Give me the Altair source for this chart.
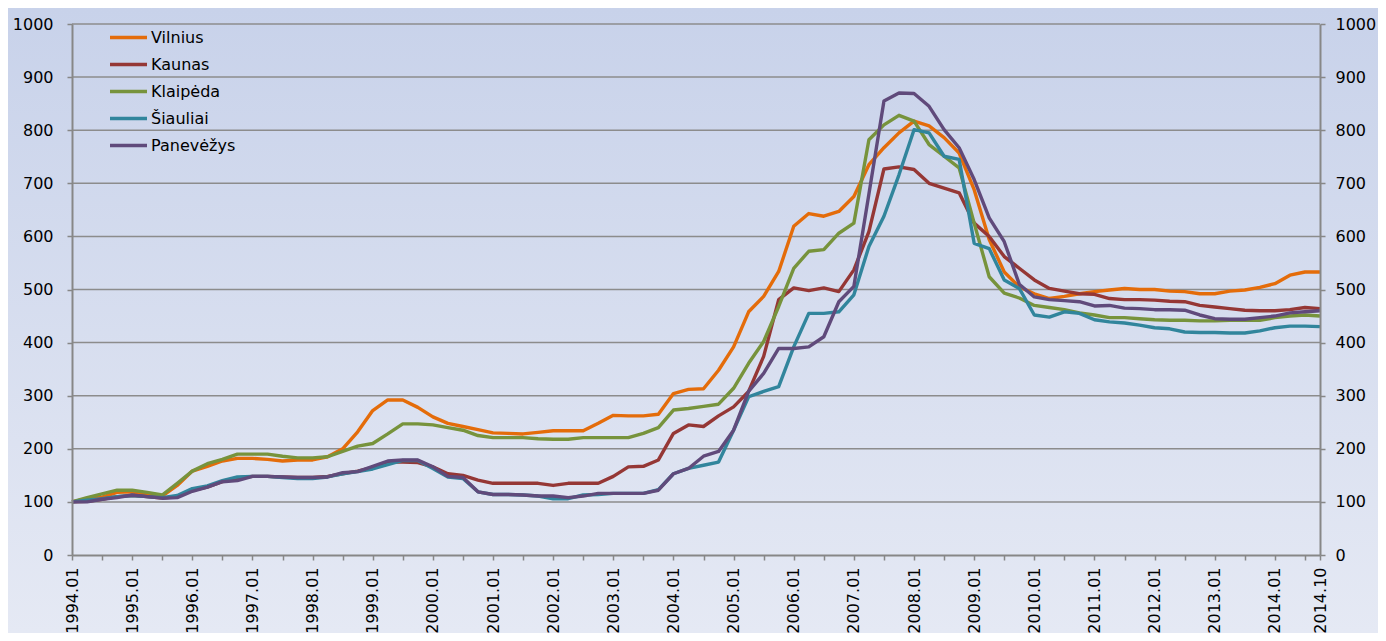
import altair as alt
import pandas as pd

# month index (0 = 1994.01) sampled quarterly, last point = 2014.10
months = list(range(0, 247, 3)) + [249]

vilnius = [100, 106, 109, 118, 119, 113, 111, 131, 158, 167, 177, 182, 182, 180, 177, 179, 179, 185, 200, 232,
           272, 292, 292, 278, 260, 248, 242, 236, 230, 229, 228, 231, 234, 234, 234, 248, 263, 262, 262, 265,
           304, 312, 313, 348, 392, 458, 487, 534, 619, 643, 638, 647, 675, 735, 767, 795, 817, 808, 786, 757,
           688, 594, 533, 505, 492, 483, 487, 492, 496, 499, 502, 500, 500, 497, 496, 492, 492, 497, 499, 504,
           511, 527, 533, 533]
kaunas = [100, 101, 105, 110, 112, 110, 107, 110, 122, 128, 138, 145, 148, 148, 147, 146, 146, 148, 153, 158,
          165, 175, 175, 174, 166, 153, 150, 141, 135, 135, 135, 135, 131, 135, 135, 135, 148, 166, 167, 179,
          229, 245, 242, 262, 279, 308, 374, 481, 503, 498, 503, 496, 537, 609, 727, 731, 726, 700, 691, 682,
          625, 600, 562, 540, 518, 502, 497, 492, 491, 483, 481, 481, 480, 478, 477, 470, 467, 464, 461, 460,
          460, 462, 466, 464]
klaipeda = [100, 108, 115, 122, 122, 118, 113, 135, 158, 172, 180, 190, 190, 190, 186, 183, 183, 185, 195, 205,
            210, 228, 247, 247, 245, 240, 235, 225, 221, 221, 221, 219, 218, 218, 221, 221, 221, 221, 229, 240,
            273, 276, 280, 284, 314, 361, 402, 468, 540, 572, 575, 606, 625, 782, 810, 828, 817, 773, 751, 729,
            625, 524, 493, 484, 470, 466, 462, 456, 452, 447, 447, 445, 443, 442, 442, 441, 441, 442, 442, 442,
            447, 450, 452, 450]
siauliai = [100, 103, 106, 110, 112, 110, 108, 112, 125, 130, 140, 147, 148, 148, 146, 144, 144, 147, 153, 157,
            162, 170, 178, 178, 163, 147, 144, 119, 114, 114, 113, 111, 106, 106, 113, 114, 116, 116, 116, 123,
            153, 163, 169, 175, 235, 298, 308, 317, 392, 455, 455, 458, 490, 581, 638, 716, 801, 795, 751, 745,
            587, 577, 518, 502, 452, 448, 458, 455, 443, 439, 437, 433, 428, 426, 420, 419, 419, 418, 418, 422,
            428, 431, 431, 430]
panevezys = [100, 100, 105, 108, 113, 110, 107, 108, 120, 128, 138, 140, 148, 148, 147, 146, 146, 147, 155, 157,
             167, 177, 179, 179, 166, 148, 146, 119, 114, 114, 113, 111, 111, 108, 111, 116, 116, 116, 116, 122,
             153, 163, 186, 195, 235, 308, 342, 389, 389, 392, 411, 477, 506, 680, 855, 870, 869, 845, 801, 767,
             707, 635, 590, 510, 486, 481, 479, 477, 469, 470, 465, 464, 462, 462, 461, 452, 445, 444, 444, 447,
             450, 456, 458, 460]

cities = ["Vilnius", "Kaunas", "Klaipėda", "Šiauliai", "Panevėžys"]
colors = ["#E46C0A", "#953735", "#77933C", "#31859C", "#604A7B"]
series = [vilnius, kaunas, klaipeda, siauliai, panevezys]

tick_months = list(range(0, 247, 6)) + [249]
y_ticks = list(range(0, 1001, 100))

rows = []
for ci, (name, vals) in enumerate(zip(cities, series)):
    for m, v in zip(months, vals):
        rows.append({"m": m, "value": v, "city": name, "ord": ci})
df = pd.DataFrame(rows)

W, H = 1248, 531
PL, PT, PR, PB = 64, 16, 58, 78
FONT = "DejaVu Sans"

xscale = alt.Scale(domain=[0, 249], nice=False, zero=False)
yscale = alt.Scale(domain=[0, 1000], nice=False)

bg = alt.Chart(pd.DataFrame({"a": [0]})).mark_rect(
    color=alt.Gradient(
        gradient="linear",
        stops=[alt.GradientStop(color="#C8D2EA", offset=0),
               alt.GradientStop(color="#E5E9F4", offset=1)],
        x1=0, x2=0, y1=0, y2=1,
    )
).encode(
    x=alt.value(-PL), x2=alt.value(W + PR), y=alt.value(-PT), y2=alt.value(H + PB)
)

grid = alt.Chart(pd.DataFrame({"g": y_ticks[1:]})).mark_rule(
    color="#8C8C8C", strokeWidth=1.5
).encode(y=alt.Y("g:Q", scale=yscale, axis=None))

label_expr = ("datum.value == 249 ? '2014.10' : (datum.value % 12 == 0 ? "
              "(1994 + datum.value / 12) + '.01' : '')")

lines = alt.Chart(df).mark_line(strokeWidth=3.4, strokeJoin="round").encode(
    x=alt.X("m:Q", scale=xscale,
            axis=alt.Axis(values=tick_months, labelExpr=label_expr, title=None, grid=False,
                          labelAngle=-90, labelFont=FONT, labelFontSize=16, labelColor="#000000",
                          domainColor="#878787", domainWidth=2, tickColor="#878787", tickWidth=1.5,
                          tickSize=5, labelPadding=7, zindex=1, labelOverlap=False, labelFlush=False)),
    y=alt.Y("value:Q", scale=yscale,
            axis=alt.Axis(values=y_ticks, format="d", title=None, grid=False, orient="left",
                          labelFont=FONT, labelFontSize=16, labelColor="#000000",
                          domainColor="#878787", domainWidth=2, tickColor="#878787", tickWidth=1.5,
                          tickSize=5, labelPadding=14, zindex=1)),
    color=alt.Color("city:N", scale=alt.Scale(domain=cities, range=colors), sort=cities,
                    legend=alt.Legend(title=None, orient="none", legendX=36, legendY=0,
                                      symbolType="stroke", symbolSize=1369, symbolStrokeWidth=3.5,
                                      labelFont=FONT, labelFontSize=16, labelColor="#000000",
                                      labelOffset=2, rowPadding=0, padding=0, clipHeight=27)),
    order=alt.Order("ord:Q"),
    detail="city:N",
)

right_axis = alt.Chart(pd.DataFrame({"v": [0]})).mark_point(opacity=0).encode(
    y=alt.Y("v:Q", scale=yscale,
            axis=alt.Axis(values=y_ticks, format="d", title=None, grid=False, orient="right",
                          labelFont=FONT, labelFontSize=16, labelColor="#000000",
                          domainColor="#878787", domainWidth=2, tickColor="#878787", tickWidth=1.5,
                          tickSize=5, labelPadding=10, zindex=1))
)

chart = alt.layer(bg, grid, lines, right_axis).resolve_scale(y="independent").properties(
    width=W, height=H,
    autosize=alt.AutoSizeParams(type="none"),
    padding={"left": PL, "top": PT, "right": PR, "bottom": PB},
).configure_view(stroke=None).configure(background="#E5E9F4")

chart.save("out.html", embed_options={"renderer": "svg", "actions": False})
